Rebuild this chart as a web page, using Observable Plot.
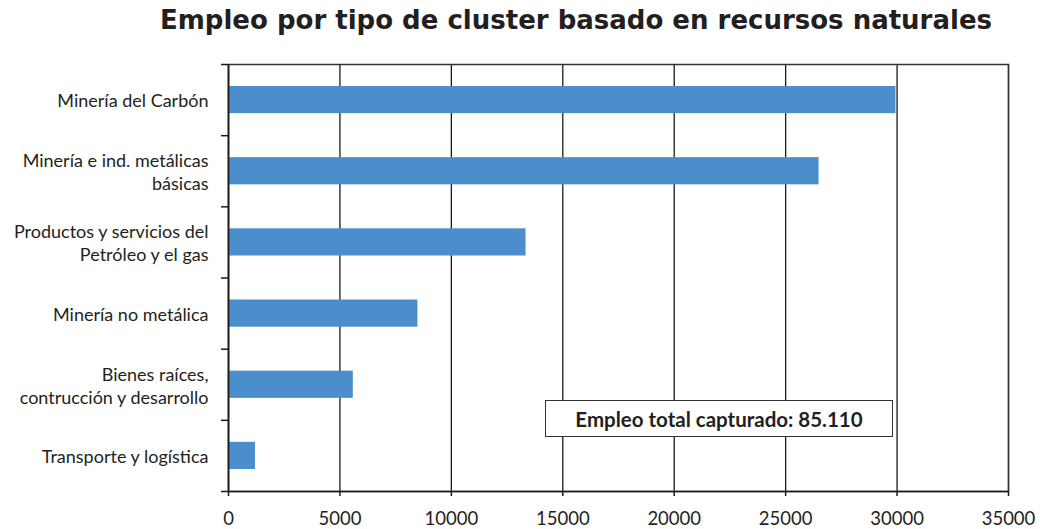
<!DOCTYPE html>
<html>
<head>
<meta charset="utf-8">
<script src="https://cdn.jsdelivr.net/npm/d3@7"></script>
<script src="https://cdn.jsdelivr.net/npm/@observablehq/plot@0.6"></script>
<style>
  html, body { margin: 0; padding: 0; background: #fff; }
  #wrap { position: relative; width: 1040px; height: 529px; overflow: hidden; }
  #title { height: 50px; box-sizing: border-box; padding-top: 5px; padding-left: 112px; text-align: center;
           font-family: "DejaVu Sans", sans-serif; font-weight: bold; font-size: 26px; color: #231f20; white-space: nowrap; }
  #note { position: absolute; left: 545px; top: 400px; width: 348px; height: 37px; box-sizing: border-box;
          border: 1.5px solid #333; background: #fff; display: flex; align-items: center; justify-content: center;
          font-family: Lato, sans-serif; font-weight: bold; font-size: 20.5px; color: #231f20; }
</style>
</head>
<body>
<div id="wrap">
  <div id="title">Empleo por tipo de cluster basado en recursos naturales</div>
  <div id="chart"></div>
  <div id="note"></div>
</div>
<script>
const categories = [
  "Minería del Carbón",
  "Minería e ind. metálicas básicas",
  "Productos y servicios del Petróleo y el gas",
  "Minería no metálica",
  "Bienes raíces, contrucción y desarrollo",
  "Transporte y logística"
];
const labels = [
  "Minería del Carbón",
  "Minería e ind. metálicas\nbásicas",
  "Productos y servicios del\nPetróleo y el gas",
  "Minería no metálica",
  "Bienes raíces,\ncontrucción y desarrollo",
  "Transporte y logística"
];
const values = [29950, 26500, 13350, 8500, 5600, 1210];
const xTicks = [0, 5000, 10000, 15000, 20000, 25000, 30000, 35000];
const noteText = "Empleo total capturado: 85.110";

const data = categories.map((c, i) => ({category: c, label: labels[i], value: values[i], i}));
const boundaries = d3.range(0, categories.length + 1);
const centers = categories.map((c, i) => i + 0.5);

const plot = Plot.plot({
  width: 1040,
  height: 479,
  marginTop: 14,
  marginBottom: 38,
  marginLeft: 228,
  marginRight: 32,
  style: {fontFamily: "Lato, sans-serif", color: "#231f20", background: "#fff"},
  x: {domain: [0, 35000]},
  y: {domain: [0, categories.length], reverse: true},
  marks: [
    Plot.gridX(xTicks, {stroke: "#1a1a1a", strokeOpacity: 1, strokeWidth: 1.3}),
    Plot.rectX(data, {x1: 0, x2: "value", y1: "i", y2: d => d.i + 1, fill: "#4a8ecb", insetTop: 22, insetBottom: 22}),
    Plot.frame({stroke: "#333", strokeWidth: 1.5}),
    Plot.ruleX([0], {stroke: "#1a1a1a", strokeWidth: 1.5}),
    Plot.ruleY([categories.length], {stroke: "#1a1a1a", strokeWidth: 1.5}),
    Plot.axisX({ticks: xTicks, tickFormat: "d", tickSize: 5, tickPadding: 15, fontSize: 18.5, label: null, stroke: "#1a1a1a", strokeWidth: 1.5}),
    Plot.axisY({ticks: boundaries, tickFormat: () => "", tickSize: 7, label: null, stroke: "#1a1a1a", strokeWidth: 1.5}),
    Plot.axisY({ticks: centers, tickFormat: v => labels[Math.floor(v)], tickSize: 0, tickPadding: 20, fontSize: 18, lineHeight: 1.28, label: null})
  ]
});
document.getElementById("chart").appendChild(plot);
document.getElementById("note").textContent = noteText;
</script>
</body>
</html>
